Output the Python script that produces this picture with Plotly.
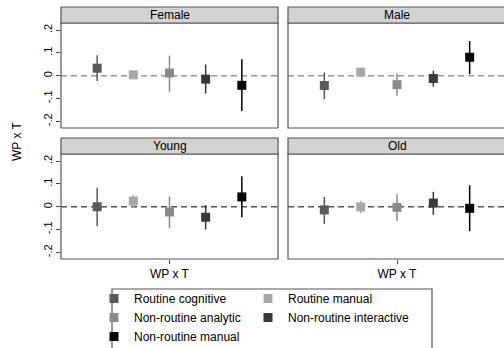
import plotly.graph_objects as go

categories = ["Routine cognitive", "Routine manual", "Non-routine analytic",
              "Non-routine interactive", "Non-routine manual"]
colors = ["#5a5a5a", "#a8a8a8", "#8a8a8a", "#383838", "#000000"]
legend_col = ["legend", "legend2", "legend", "legend2", "legend"]
panels = ["Female", "Male", "Young", "Old"]

est = {
    "Female": [0.033, 0.004, 0.012, -0.015, -0.042],
    "Male":   [-0.043, 0.016, -0.039, -0.012, 0.081],
    "Young":  [0.000, 0.025, -0.023, -0.046, 0.043],
    "Old":    [-0.014, -0.001, -0.003, 0.016, -0.007],
}
hi = {
    "Female": [0.090, 0.012, 0.088, 0.049, 0.072],
    "Male":   [0.014, 0.029, 0.010, 0.022, 0.152],
    "Young":  [0.083, 0.052, 0.045, 0.007, 0.133],
    "Old":    [0.043, 0.026, 0.055, 0.065, 0.094],
}
lo = {
    "Female": [-0.023, -0.004, -0.070, -0.078, -0.155],
    "Male":   [-0.103, 0.000, -0.088, -0.048, 0.007],
    "Young":  [-0.084, -0.004, -0.093, -0.100, -0.046],
    "Old":    [-0.075, -0.028, -0.062, -0.035, -0.107],
}
xtick_vals = [3]
xtick_text = ["WP x T"]
ytick_vals = [-0.2, -0.1, 0, 0.1, 0.2]
ytick_text = ["-.2", "-.1", "0", ".1", ".2"]

W, H = 504, 348
ML = 61  # left margin (plot area starts here)
PW = W - ML
FONT = "Liberation Sans, Arial, sans-serif"


def px(x):
    return (x - ML) / PW


def py(y):
    return 1 - y / H


# pixel boxes (left, right, top, bottom)
boxes = {
    "Female": (61, 278, 23, 128),
    "Male": (288, 506, 23, 128),
    "Young": (61, 278, 154, 259),
    "Old": (288, 506, 154, 259),
}
strip_h = 16
axis_ids = {"Female": "", "Male": "2", "Young": "3", "Old": "4"}

fig = go.Figure()
layout = dict(
    width=W, height=H, margin=dict(l=ML, r=0, t=0, b=0, autoexpand=False),
    paper_bgcolor="white", plot_bgcolor="white",
    font=dict(family=FONT, size=12, color="black"),
    showlegend=True,
)
shapes = []
annotations = []

for p in panels:
    sid = axis_ids[p]
    l, r, t, b = boxes[p]
    xd = [max(px(l), 0), min(px(r), 1)]
    yd = [py(b), py(t)]
    xr = [0, 6 * (min(r, W) - l) / (r - l)]
    bottom = p in ("Young", "Old")
    left = p in ("Female", "Young")
    layout["xaxis" + sid] = dict(
        domain=xd, range=xr, anchor="y" + sid, showgrid=False, zeroline=False,
        showline=False,
        tickmode="array", tickvals=xtick_vals if bottom else [],
        ticktext=xtick_text if bottom else [],
        ticks="outside" if bottom else "", ticklen=4, tickcolor="#444",
        tickfont=dict(size=12), showticklabels=bottom,
    )
    layout["yaxis" + sid] = dict(
        domain=yd, range=[-0.229, 0.231], anchor="x" + sid, showgrid=False,
        zeroline=False, showline=False,
        tickmode="array", tickvals=ytick_vals if left else [],
        ticktext=ytick_text if left else [],
        ticks="outside" if left else "", ticklen=4, tickcolor="#444",
        tickangle=-90, tickfont=dict(size=11), showticklabels=left,
    )
    # zero line
    shapes.append(dict(type="line", xref="x" + sid + " domain", yref="y" + sid,
                       x0=0, x1=1, y0=0, y1=0,
                       line=dict(color="#999999" if not bottom else "#555555",
                                 width=1.3, dash="6px,4px"), layer="below"))
    # panel border
    shapes.append(dict(type="rect", xref="paper", yref="paper",
                       x0=px(l), x1=px(r), y0=py(b), y1=py(t),
                       line=dict(color="#555555", width=1.2)))
    # strip
    shapes.append(dict(type="rect", xref="paper", yref="paper",
                       x0=px(l), x1=px(r), y0=py(t), y1=py(t - strip_h),
                       fillcolor="#d3d3d3", line=dict(color="#555555", width=1.2)))
    annotations.append(dict(text=p, xref="paper", yref="paper",
                            x=px((l + r) / 2), y=py(t - strip_h / 2),
                            showarrow=False, font=dict(size=12),
                            xanchor="center", yanchor="middle"))
    for i, c in enumerate(categories):
        e = est[p][i]
        fig.add_trace(go.Scatter(
            x=[i + 1], y=[e], mode="markers", name=c,
            xaxis="x" + sid, yaxis="y" + sid,
            marker=dict(symbol="square", size=9, color=colors[i]),
            error_y=dict(type="data", symmetric=False,
                         array=[hi[p][i] - e], arrayminus=[e - lo[p][i]],
                         color=colors[i], thickness=1.5, width=0),
            showlegend=(p == "Female"), legend=legend_col[i],
        ))

annotations.append(dict(text="WP x T", xref="paper", yref="paper",
                        x=px(17), y=py(141), textangle=-90, showarrow=False,
                        font=dict(size=12), xanchor="center", yanchor="middle"))

# legend frame
shapes.append(dict(type="rect", xref="paper", yref="paper",
                   x0=px(112), x1=px(432), y0=py(352), y1=py(289),
                   line=dict(color="#555555", width=1.2)))

layout["shapes"] = shapes
layout["annotations"] = annotations
leg_common = dict(orientation="v", yanchor="top", xanchor="left", borderwidth=0,
                  bgcolor="rgba(0,0,0,0)", font=dict(size=12), tracegroupgap=0,
                  itemwidth=30, traceorder="normal")
layout["legend"] = dict(x=px(94), y=py(284), **leg_common)
layout["legend2"] = dict(x=px(248), y=py(284), **leg_common)
fig.update_layout(**layout)
fig.write_html("out.html")
